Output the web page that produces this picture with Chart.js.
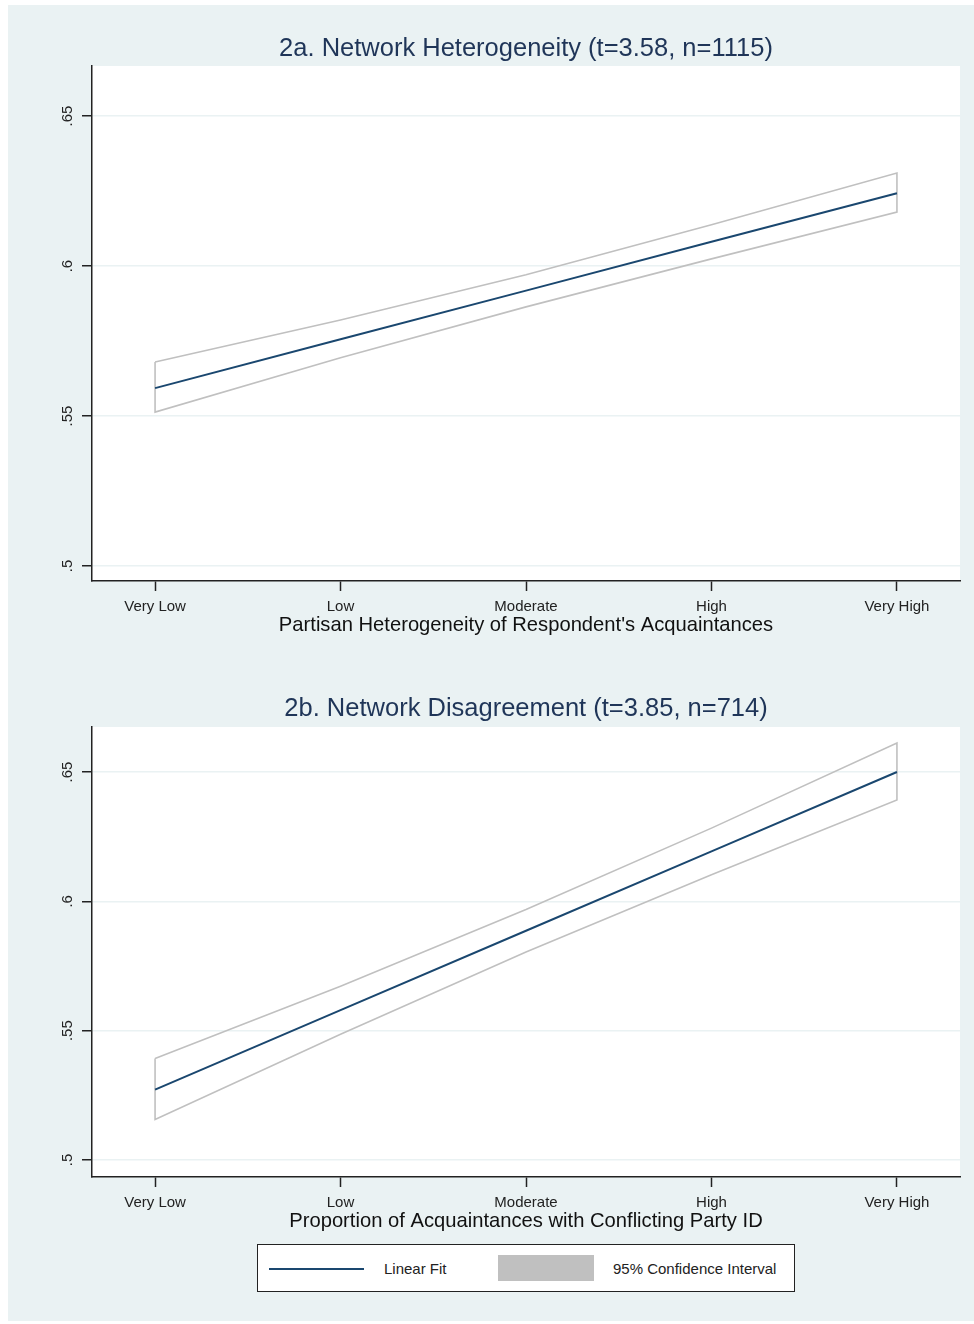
<!DOCTYPE html>
<html>
<head>
<meta charset="utf-8">
<script src="https://cdn.jsdelivr.net/npm/chart.js@4.4.1/dist/chart.umd.min.js"></script>
<style>
  html, body { margin: 0; padding: 0; background: #ffffff; }
  body { width: 974px; height: 1324px; position: relative; overflow: hidden; font-family: "Liberation Sans", Arial, sans-serif; }
  #bg { position: absolute; left: 8px; top: 5px; width: 966px; height: 1316px; background: #EAF2F3; }
  .cv { position: absolute; left: 8px; }
  #c1wrap { top: 5px; width: 966px; height: 645px; }
  #c2wrap { top: 650px; width: 966px; height: 590px; }
  #legend { position: absolute; left: 257px; top: 1244px; width: 536px; height: 46px; background: #fff; border: 1.5px solid #222; }
  #legend .ln { position: absolute; left: 11px; top: 23px; width: 95px; height: 0; border-top: 2px solid #1A476F; }
  #legend .bx { position: absolute; left: 240px; top: 10px; width: 96px; height: 26px; background: #C0C0C0; }
  #legend .t { position: absolute; top: 15px; font-size: 15px; color: #222; line-height: 18px; white-space: nowrap; }
</style>
</head>
<body>
<div id="bg"></div>
<div class="cv" id="c1wrap"><canvas id="c1"></canvas></div>
<div class="cv" id="c2wrap"><canvas id="c2"></canvas></div>
<div id="legend">
  <div class="ln"></div><div class="t" style="left:126px">Linear Fit</div>
  <div class="bx"></div><div class="t" style="left:355px">95% Confidence Interval</div>
</div>
<script>
// ---- data ----
const categories = ['Very Low', 'Low', 'Moderate', 'High', 'Very High'];
const xPositions = [1, 2, 3, 4, 5];
const yTickValues = [0.5, 0.55, 0.6, 0.65];
const yTickLabels = ['.5', '.55', '.6', '.65'];

const aFit   = [0.5593, 0.5756, 0.5918, 0.6081, 0.6243];
const aUpper = [0.5680, 0.5820, 0.5971, 0.6138, 0.6310];
const aLower = [0.5513, 0.5694, 0.5864, 0.6024, 0.6180];

const bFit   = [0.5272, 0.5579, 0.5886, 0.6193, 0.6500];
const bUpper = [0.5392, 0.5672, 0.5968, 0.6283, 0.6612];
const bLower = [0.5156, 0.5486, 0.5804, 0.6103, 0.6392];

const titleA = '2a. Network Heterogeneity (t=3.58, n=1115)';
const titleB = '2b. Network Disagreement (t=3.85, n=714)';
const xTitleA = "Partisan Heterogeneity of Respondent's Acquaintances";
const xTitleB = 'Proportion of Acquaintances with Conflicting Party ID';

// ---- helpers ----
const FONT = '"Liberation Sans", Arial, sans-serif';
const NAVY = '#1A476F';
const CI = '#C0C0C0';
const AXIS = '#222222';

function pts(vals) { return xPositions.map((x, i) => ({ x: x, y: vals[i] })); }
function ciPolygon(up, lo) {
  const u = pts(up), l = pts(lo).reverse();
  return [...u, ...l, u[0]];
}

const plotBg = {
  id: 'plotBg',
  beforeDraw(chart) {
    const { ctx, chartArea: a } = chart;
    ctx.save();
    ctx.fillStyle = '#ffffff';
    ctx.fillRect(a.left, a.top, a.right - a.left, a.bottom - a.top);
    ctx.restore();
  }
};

const yRotLabels = {
  id: 'yRotLabels',
  afterDraw(chart) {
    const s = chart.scales.y;
    const ctx = chart.ctx;
    ctx.save();
    ctx.font = '15px ' + FONT;
    ctx.fillStyle = '#222';
    ctx.textAlign = 'center';
    ctx.textBaseline = 'middle';
    s.ticks.forEach((t, i) => {
      const y = s.getPixelForValue(t.value);
      ctx.save();
      ctx.translate(s.right - 24.5, y);
      ctx.rotate(-Math.PI / 2);
      ctx.fillText(yTickLabels[i], 0, 0);
      ctx.restore();
    });
    ctx.restore();
  }
};

function makeChart(id, fit, up, lo, title, xTitle, yMin, yMax, cfg) {
  return new Chart(document.getElementById(id), {
    type: 'scatter',
    data: {
      datasets: [
        { label: 'Linear Fit', data: pts(fit), showLine: true, borderColor: NAVY, borderWidth: 2,
          pointRadius: 0, tension: 0, fill: false },
        { label: '95% Confidence Interval', data: ciPolygon(up, lo), showLine: true, borderColor: CI,
          borderWidth: 1.6, pointRadius: 0, tension: 0, fill: false }
      ]
    },
    options: {
      responsive: true,
      maintainAspectRatio: false,
      animation: false,
      layout: { padding: { left: 0, right: 14, top: 0, bottom: 0 } },
      plugins: {
        legend: { display: false },
        tooltip: { enabled: false },
        title: {
          display: true, text: title, color: '#1f3558', fullSize: false,
          font: { family: FONT, size: 25.5, weight: 'normal', lineHeight: 1.2 },
          padding: { top: cfg.titleTop, bottom: cfg.titleBottom }
        }
      },
      scales: {
        x: {
          type: 'linear', min: 0.66, max: 5.34,
          afterBuildTicks: (s) => { s.ticks = xPositions.map(v => ({ value: v })); },
          afterFit: (s) => { s.height = cfg.xH; },
          ticks: { autoSkip: false, maxRotation: 0, minRotation: 0, padding: 7, color: '#222',
                   font: { family: FONT, size: 15 },
                   callback: (v, i) => categories[i] },
          grid: { drawOnChartArea: false, drawTicks: true, tickLength: 10, tickColor: AXIS, tickWidth: 1.5 },
          border: { display: true, color: AXIS, width: 1.5 },
          title: { display: true, text: xTitle, color: '#111',
                   font: { family: FONT, size: 20.2, lineHeight: 1.2 },
                   padding: { top: 0, bottom: cfg.xTitlePad } }
        },
        y: {
          type: 'linear', min: yMin, max: yMax,
          afterBuildTicks: (s) => { s.ticks = yTickValues.map(v => ({ value: v })); },
          afterFit: (s) => { s.width = 84; },
          ticks: { display: false },
          grid: { drawOnChartArea: true, color: '#EAF2F3', lineWidth: 1.5, drawTicks: true,
                  tickLength: 10, tickColor: AXIS, tickWidth: 1.5 },
          border: { display: true, color: AXIS, width: 1.5 }
        }
      }
    },
    plugins: [plotBg, yRotLabels]
  });
}

makeChart('c1', aFit, aUpper, aLower, titleA, xTitleA, 0.495, 0.6667,
  { titleTop: 28.7, titleBottom: 1.7, xH: 69, xTitlePad: 12.6 });
makeChart('c2', bFit, bUpper, bLower, titleB, xTitleB, 0.4934, 0.6674,
  { titleTop: 43.7, titleBottom: 2.7, xH: 63, xTitlePad: 6.6 });
</script>
</body>
</html>
